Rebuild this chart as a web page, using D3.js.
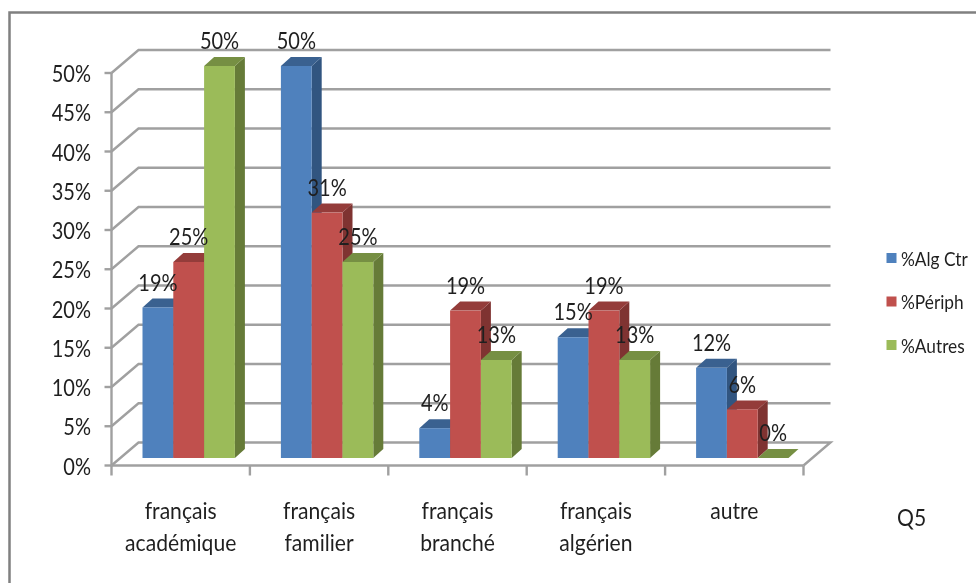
<!DOCTYPE html>
<html><head><meta charset="utf-8">
<script src="https://cdn.jsdelivr.net/npm/d3@7/dist/d3.min.js"></script>
<style>html,body{margin:0;padding:0;background:#fff}svg{display:block;filter:blur(0.7px)}text{font-family:Lato,"Open Sans",sans-serif;fill:#1f1f1f}</style>
</head><body><div id="chart"></div>
<script>
const categories=[["français","académique"],["français","familier"],["français","branché"],["français","algérien"],["autre"]];
const seriesNames=["%Alg Ctr","%Périph","%Autres"];
const algCtr=[19.2,50,3.8,15.4,11.5];
const periph=[25,31.3,18.8,18.8,6.2];
const autres=[50,25,12.5,12.5,0];
const yTicks=[0,5,10,15,20,25,30,35,40,45,50];
const series=[algCtr,periph,autres];
const colors=[{f:"#4f81bd",t:"#3a6190",s:"#315580"},{f:"#c0504d",t:"#943c3a",s:"#7f3331"},{f:"#9bbb59",t:"#768f43",s:"#667b38"}];

const W=976,H=583,dx=27,dy=-23,bdx=10,bdy=-9;
const svg=d3.select("#chart").append("svg").attr("width",W).attr("height",H);
const x0=d3.scaleBand().domain(d3.range(categories.length)).range([111.5,803.5]);
const y=d3.scaleLinear().domain([0,50]).range([465.5,73]);
const grid="#a0a0a0";

svg.append("path").attr("d",`M9.5,583V12.5H976`).attr("fill","none").attr("stroke","#808080").attr("stroke-width",2.5);

const g=svg.append("g");
function label(x,yy,str,size,sx,anchor){
  return g.append("text").attr("transform",`translate(${x},${yy}) scale(${sx},1)`).attr("dy","0.4em").attr("text-anchor",anchor).attr("font-size",size).text(str);
}
yTicks.forEach(v=>{
  const yy=y(v);
  g.append("path").attr("d",`M${x0.range()[0]},${yy}l${dx},${dy}H${x0.range()[1]+dx}`+(v===0?`l${-dx},${-dy}`:"")).attr("fill","none").attr("stroke",grid).attr("stroke-width",2.4);
  g.append("line").attr("x1",x0.range()[0]-7).attr("x2",x0.range()[0]).attr("y1",yy).attr("y2",yy).attr("stroke",grid).attr("stroke-width",2.4);
  label(91,yy,v+"%",23,0.87,"end");
});
g.append("line").attr("x1",111.5).attr("x2",111.5).attr("y1",y(50)).attr("y2",y(0)).attr("stroke",grid).attr("stroke-width",2.4);
g.append("line").attr("x1",111.5).attr("x2",803.5).attr("y1",y(0)).attr("y2",y(0)).attr("stroke",grid).attr("stroke-width",2.4);
d3.range(categories.length+1).forEach(i=>{
  const tx=111.5+i*x0.step();
  g.append("line").attr("x1",tx).attr("x2",tx).attr("y1",y(0)).attr("y2",y(0)+10).attr("stroke",grid).attr("stroke-width",2.4);
});
const base=458;
const scale=d3.scaleLinear().domain([0,50]).range([base,66]);
const bw=30.8,inset=31;
categories.forEach((c,i)=>{
  const left=x0(i)+inset;
  [0,1,2].forEach(k=>{
    const v=series[k][i],bx=left+k*bw,top=scale(v);
    const col=colors[k];
    g.append("path").attr("d",`M${bx+bw},${top}l${bdx},${bdy}V${base+bdy}l${-bdx},${-bdy}Z`).attr("fill",col.s);
    g.append("path").attr("d",`M${bx},${top}l${bdx},${bdy}h${bw}l${-bdx},${-bdy}Z`).attr("fill",col.t);
    g.append("rect").attr("x",bx).attr("y",top).attr("width",bw).attr("height",base-top).attr("fill",col.f);
  });
});
categories.forEach((c,i)=>{
  const left=x0(i)+inset;
  series.forEach((s,k)=>{
    label(left+k*bw+bw/2,scale(s[i])-26,Math.round(s[i])+"%",23,0.87,"middle");
  });
  c.forEach((ln,j)=>{
    label(x0(i)+x0.bandwidth()/2,509+j*32,ln,24,0.88,"middle");
  });
});
seriesNames.forEach((n,k)=>{
  const ly=258+k*43.5;
  g.append("rect").attr("x",886.5).attr("y",ly-5).attr("width",10).attr("height",10).attr("fill",colors[k].f);
  label(901,ly,n,19,0.91,"start");
});
label(897,516,"Q5",24,0.88,"start");
</script></body></html>
